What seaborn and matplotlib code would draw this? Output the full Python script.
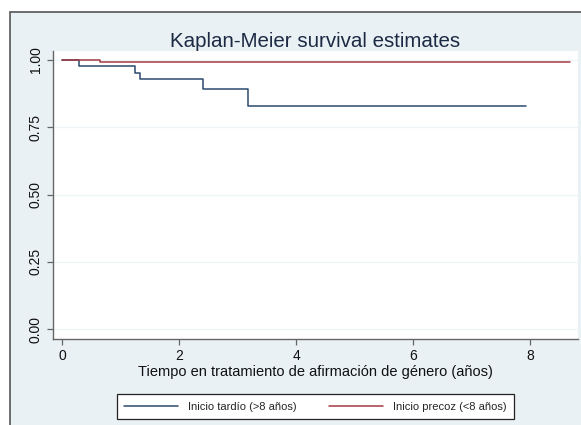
import numpy as np
import pandas as pd
import matplotlib
matplotlib.use("Agg")
import matplotlib.pyplot as plt
from matplotlib.patches import Rectangle
import seaborn as sns

# Kaplan-Meier step values
tardio_t = [0.0, 0.28, 1.25, 1.32, 2.40, 3.17, 7.92]
tardio_s = [1.0, 0.978, 0.953, 0.928, 0.892, 0.828, 0.828]
precoz_t = [0.0, 0.64, 8.67]
precoz_s = [1.0, 0.993, 0.993]

labels = ["Inicio tardío (>8 años)", "Inicio precoz (<8 años)"]
colors = ["#2b4a6f", "#a33a43"]
xticks = [0, 2, 4, 6, 8]
yticks = [0.0, 0.25, 0.5, 0.75, 1.0]

df = pd.concat([
    pd.DataFrame({"t": tardio_t, "s": tardio_s, "grupo": labels[0]}),
    pd.DataFrame({"t": precoz_t, "s": precoz_s, "grupo": labels[1]}),
])

sns.set_theme(style="white")
plt.rcParams["font.family"] = ["Liberation Sans", "DejaVu Sans"]

bg = "#e9f1f4"
fig = plt.figure(figsize=(5.81, 4.25), dpi=100, facecolor="white")
W, H = 581, 425
fig.patches.append(Rectangle((10 / W, -0.1), 1.2, 1.1 - 12 / H,
                             transform=fig.transFigure, facecolor=bg,
                             edgecolor="#555555", lw=1.2, zorder=-10))

ax = fig.add_axes([53 / W, 1 - 339 / H, (578 - 53) / W, (339 - 50.7) / H])
ax.set_facecolor("white")

sns.lineplot(data=df, x="t", y="s", hue="grupo", palette=colors,
             drawstyle="steps-post", lw=1.1, ax=ax, legend=True)

ax.set_xlim(-0.159, 8.815)
ax.set_ylim(-0.037, 1.0346)
ax.set_xticks(xticks)
ax.set_xticklabels([str(v) for v in xticks])
ax.set_yticks(yticks)
ax.set_yticklabels([f"{v:.2f}" for v in yticks], rotation=90, va="center")
for v in yticks:
    ax.axhline(v, color="#edf3f6", lw=0.9, zorder=0)

for s in ["top", "right"]:
    ax.spines[s].set_visible(False)
for s in ["left", "bottom"]:
    ax.spines[s].set_color("#666666")
    ax.spines[s].set_linewidth(1.0)
ax.tick_params(axis="both", direction="out", length=4.3, width=0.9,
               color="#666666", labelsize=10, labelcolor="#111111", pad=3,
               left=True, bottom=True)

ax.set_xlabel("Tiempo en tratamiento de afirmación de género (años)",
              fontsize=10.5, color="#111111", labelpad=1)
ax.set_ylabel("")
ax.set_title("Kaplan-Meier survival estimates", fontsize=14.8,
             color="#1c2a44", pad=3)

handles, _ = ax.get_legend_handles_labels()
leg = ax.legend(handles, labels, loc="center", ncol=2,
                bbox_to_anchor=(315.25 / W, 1 - 406.7 / H),
                bbox_transform=fig.transFigure, fontsize=8,
                frameon=True, fancybox=False, framealpha=1,
                edgecolor="#222222", handlelength=4.9, handletextpad=0.86,
                columnspacing=2.9, borderpad=0.65)
leg.get_frame().set_linewidth(0.9)

fig.savefig("out.png", dpi=100, facecolor="white")
